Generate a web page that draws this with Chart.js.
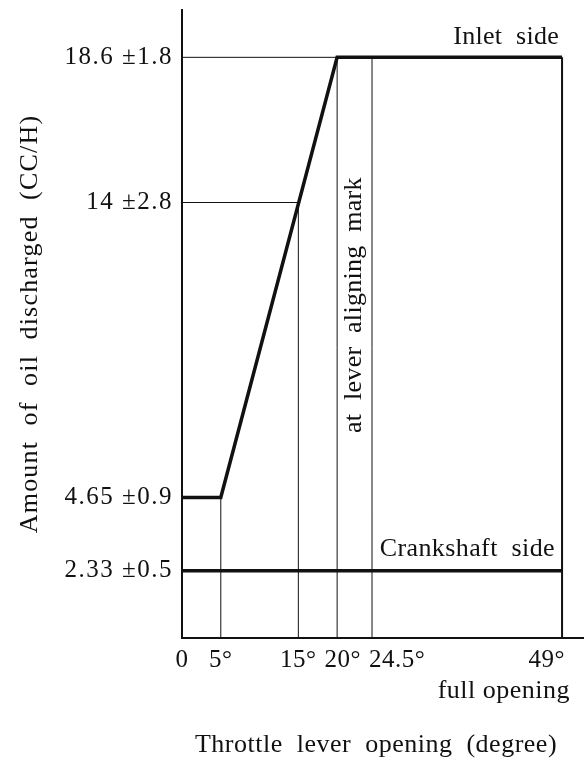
<!DOCTYPE html>
<html>
<head>
<meta charset="utf-8">
<script src="https://cdn.jsdelivr.net/npm/chart.js@4/dist/chart.umd.min.js"></script>
<style>
  html, body { margin: 0; padding: 0; background: #fff; }
</style>
</head>
<body>
<canvas id="oil" width="585" height="760"></canvas>
<script>
// throttle lever opening (degree) ticks
const xTicks = [0, 5, 15, 20, 24.5, 49];
// amount of oil discharged (CC/H) ticks + tolerances
const yTicks = [2.33, 4.65, 14, 18.6];
const yTol = [0.5, 0.9, 2.8, 1.8];

// inlet side
const inletX = [0, 5, 20, 49];
const inletY = [4.65, 4.65, 18.6, 18.6];
// crankshaft side
const crankX = [0, 49];
const crankY = [2.33, 2.33];

// thin guide lines
const vGuideX = [5, 15, 20, 24.5];
const vGuideTop = [4.65, 14, 18.6, 18.6];
const hGuideY = [18.6, 14];
const hGuideEnd = [20, 15];

// axis bounds
const xMin = 0, xMax = 51.7;
const yMin = 0.2, yMax = 20.1;

const ink = '#111';
const serif = '"Liberation Serif", "DejaVu Serif", serif';

function pts(xs, ys) {
  return xs.map((x, i) => ({ x: x, y: ys[i] }));
}

function lineSet(data, width) {
  return {
    data: data,
    showLine: true,
    borderColor: ink,
    borderWidth: width,
    pointRadius: 0,
    pointHoverRadius: 0,
    fill: false,
    clip: false
  };
}

const datasets = [];
vGuideX.forEach((x, i) => datasets.push(lineSet([{ x: x, y: yMin }, { x: x, y: vGuideTop[i] }], 1)));
hGuideY.forEach((y, i) => datasets.push(lineSet([{ x: xMin, y: y }, { x: hGuideEnd[i], y: y }], 1)));
// full opening line
datasets.push(lineSet([{ x: 49, y: yMin }, { x: 49, y: 18.6 }], 2));
datasets.push(lineSet(pts(inletX, inletY), 3.5));
datasets.push(lineSet(pts(crankX, crankY), 3.5));

function text(ctx, str, x, y, spacing) {
  ctx.letterSpacing = (spacing || 0) + 'px';
  ctx.fillText(str, x, y);
}

// spacing for the y tick labels (chart.js draws them)
const spacing = {
  id: 'spacing',
  beforeDraw(chart) {
    chart.ctx.letterSpacing = '1.5px';
  }
};

// labels drawn on top of the plot
const notes = {
  id: 'notes',
  afterDraw(chart) {
    const { ctx, scales: { x, y }, chartArea } = chart;
    ctx.save();
    ctx.fillStyle = ink;

    // x tick labels, pushed apart where they would collide
    ctx.font = '25px ' + serif;
    ctx.textAlign = 'left';
    ctx.textBaseline = 'alphabetic';
    ctx.letterSpacing = '0.5px';
    let prevRight = -Infinity;
    x.ticks.forEach(t => {
      const lbl = t.value === 0 ? '0' : t.value + '°';
      const w = ctx.measureText(lbl).width;
      let left = x.getPixelForValue(t.value) - w / 2;
      if (left < prevRight + 8) left = prevRight + 8;
      if (left + w > chartArea.right - 18) left = chartArea.right - 18 - w;
      ctx.fillText(lbl, left, chartArea.bottom + 29);
      prevRight = left + w;
    });

    ctx.font = '26px ' + serif;
    ctx.textAlign = 'right';
    text(ctx, 'Inlet  side', x.getPixelForValue(49) - 3, y.getPixelForValue(18.6) - 13, 0.3);
    text(ctx, 'Crankshaft  side', x.getPixelForValue(49) - 7, y.getPixelForValue(2.33) - 15, 0.4);
    text(ctx, 'full opening', 570, 698, 0.5);

    ctx.textAlign = 'center';
    text(ctx, 'Throttle  lever  opening  (degree)', 376, 752, 0.5);

    ctx.textBaseline = 'middle';
    ctx.save();
    ctx.translate((x.getPixelForValue(20) + x.getPixelForValue(24.5)) / 2, y.getPixelForValue(10.75));
    ctx.rotate(-Math.PI / 2);
    text(ctx, 'at  lever  aligning  mark', 0, 0, 0.3);
    ctx.restore();

    ctx.save();
    ctx.translate(30, (chartArea.top + chartArea.bottom) / 2);
    ctx.rotate(-Math.PI / 2);
    text(ctx, 'Amount  of  oil  discharged  (CC/H)', 0, 0, 1.2);
    ctx.restore();

    ctx.restore();
  }
};

new Chart(document.getElementById('oil'), {
  type: 'scatter',
  data: { datasets: datasets },
  options: {
    responsive: false,
    animation: false,
    layout: { padding: { top: 10, right: 2, left: 0, bottom: 0 } },
    plugins: {
      legend: { display: false },
      tooltip: { enabled: false }
    },
    scales: {
      x: {
        type: 'linear',
        min: xMin,
        max: xMax,
        afterFit: (s) => { s.height = 122; s.paddingLeft = 0; s.paddingRight = 0; },
        afterBuildTicks: (s) => { s.ticks = xTicks.map(v => ({ value: v })); },
        grid: { display: false, drawTicks: false },
        border: { display: true, color: ink, width: 2 },
        ticks: { display: false }
      },
      y: {
        type: 'linear',
        min: yMin,
        max: yMax,
        afterFit: (s) => { s.width = 182; s.paddingTop = 0; s.paddingBottom = 0; },
        afterBuildTicks: (s) => { s.ticks = yTicks.map(v => ({ value: v })); },
        grid: { display: false, drawTicks: false },
        border: { display: true, color: ink, width: 2 },
        ticks: {
          autoSkip: false,
          padding: 9,
          color: ink,
          font: { family: serif, size: 25 },
          callback: (v) => {
            const i = yTicks.indexOf(v);
            return i < 0 ? '' : v + ' ±' + yTol[i];
          }
        }
      }
    }
  },
  plugins: [spacing, notes]
});
</script>
</body>
</html>
